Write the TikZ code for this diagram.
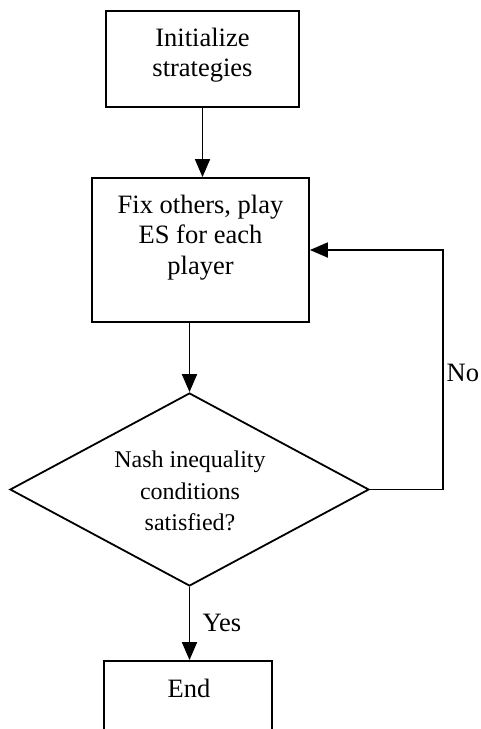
\documentclass[tikz,border=0pt]{standalone}
\usepackage{fontspec}
\setmainfont{Liberation Serif}
\usetikzlibrary{shapes.geometric,arrows.meta}
\begin{document}
\begin{tikzpicture}[x=1pt,y=-1pt,
  line width=1.8pt,
  boxshape/.style={draw,rectangle,inner sep=0pt},
  maintext/.style={align=center,font=\fontsize{26.5}{30.5}\selectfont,inner sep=0pt},
  dtext/.style={align=center,font=\fontsize{24}{31.5}\selectfont,inner sep=0pt},
  arr/.style={-{Triangle[length=18pt,width=15pt]}},
  conn/.style={line width=1.8pt}]
\useasboundingbox (0,0) rectangle (481,729);
\clip (0,0) rectangle (481,729);
% boxes
\node[boxshape,minimum width=193pt,minimum height=96pt] (b1) at (202.5,59) {};
\node[maintext] (t1) at (202.5,55) {Initialize\\strategies};
\node[boxshape,minimum width=217pt,minimum height=144pt] (b2) at (200.5,250) {};
\node[maintext] (t2) at (200.5,237.5) {Fix others, play\\ES for each\\player};
\node[draw,diamond,inner sep=0pt,minimum width=359pt,minimum height=193pt] (d) at (189.5,489.5) {};
\node[dtext] (t3) at (190,491) {Nash inequality\\conditions\\satisfied?};
\node[boxshape,minimum width=168pt,minimum height=110pt] (e) at (188,716) {};
\node[maintext] (t4) at (189,688) {End};
% connectors
\draw[conn,arr] (b1.south) -- (b1.south |- b2.north);
\draw[conn,arr] (d.north |- b2.south) -- (d.north);
\coordinate (lp) at (443,489.5);
\draw[conn,arr] (d.east) -- (lp) |- (b2.east);
\draw[conn,arr] (d.south) -- (d.south |- e.north);
% labels
\node[maintext,anchor=east] (no) at (480,373) {No};
\node[maintext] (yes) at (222,623) {Yes};
\end{tikzpicture}
\end{document}
